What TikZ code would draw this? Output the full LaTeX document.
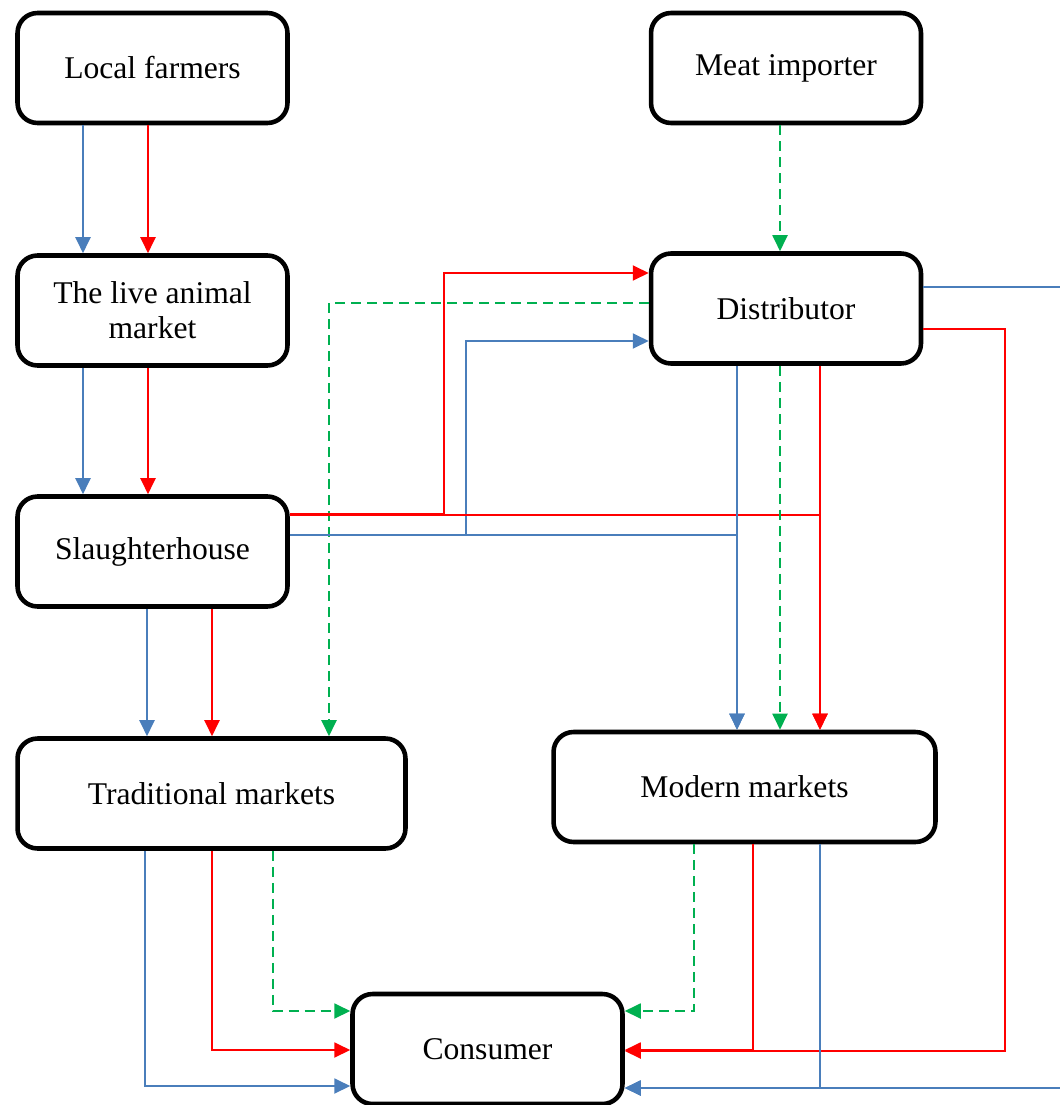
\documentclass[tikz,border=0pt]{standalone}
\usepackage{fontspec}
\setmainfont{Liberation Serif}
\usepackage{tikz}
\usetikzlibrary{positioning,arrows.meta,calc}
\definecolor{flowblue}{RGB}{74,126,187}
\definecolor{flowred}{RGB}{255,0,0}
\definecolor{flowgreen}{RGB}{0,176,80}
\begin{document}
\begin{tikzpicture}[x=0.02cm,y=-0.02cm,font=\fontsize{18pt}{20pt}\selectfont,
 box/.style={draw,rectangle,rounded corners=0.4cm,line width=2.6pt,align=center,minimum width=5.4cm,minimum height=2.2cm,inner sep=3pt},
 arr/.style={-{Triangle[length=0.32cm,width=0.3cm]},line width=1.1pt},
 bl/.style={arr,flowblue},
 rd/.style={arr,flowred},
 gr/.style={arr,flowgreen,dash pattern=on 0.2cm off 0.12cm}]
\useasboundingbox (0,0) rectangle (1060,1105);
% boxes
\node[box] (lf) at (152.5,68) {Local farmers};
\node[box] (mi) at (786,68) {Meat importer};
\node[box] (lam) at (152.5,310.5) {The live animal\\ market};
\node[box] (dist) at (786,308.5) {Distributor};
\node[box] (sh) at (152.5,551.5) {Slaughterhouse};
\node[box,minimum width=7.76cm] (tm) at (211.5,793.5) {Traditional markets};
\node[box,minimum width=7.64cm] (mm) at (744.5,787) {Modern markets};
\node[box] (cons) at (487.5,1049) {Consumer};
% left chain
\draw[bl] (lf.south -| 83,0) -- (lam.north -| 83,0);
\draw[rd] (lf.south -| 148,0) -- (lam.north -| 148,0);
\draw[bl] (lam.south -| 83,0) -- (sh.north -| 83,0);
\draw[rd] (lam.south -| 148,0) -- (sh.north -| 148,0);
\draw[bl] (sh.south -| 147,0) -- (tm.north -| 147,0);
\draw[rd] (sh.south -| 212,0) -- (tm.north -| 212,0);
% importer and distributor
\draw[gr] (mi.south -| 780,0) -- (dist.north -| 780,0);
\draw[gr] (dist.west |- 0,303) -| (tm.north -| 329,0);
\draw[rd] (sh.east |- 0,514) -| (444,273) -- (dist.west |- 0,273);
\draw[bl] (sh.east |- 0,535) -| (466,341) -- (dist.west |- 0,341);
\draw[rd] (sh.east |- 0,515) -| (mm.north -| 820,0);
\draw[bl] (sh.east |- 0,535) -| (mm.north -| 737,0);
\draw[bl] (dist.south -| 737,0) -- (mm.north -| 737,0);
\draw[gr] (dist.south -| 780,0) -- (mm.north -| 780,0);
\draw[rd] (dist.south -| 820,0) -- (mm.north -| 820,0);
\draw[bl] (dist.east |- 0,287) -- (1080,287) |- (cons.east |- 0,1088);
\draw[rd] (dist.east |- 0,329) -| (1005,1051) -- (cons.east |- 0,1051);
% to consumer
\draw[bl] (tm.south -| 145,0) |- (cons.west |- 0,1086);
\draw[rd] (tm.south -| 212,0) |- (cons.west |- 0,1050);
\draw[gr] (tm.south -| 273,0) |- (cons.west |- 0,1011);
\draw[gr] (mm.south -| 694,0) |- (cons.east |- 0,1011);
\draw[rd] (mm.south -| 753,0) |- (cons.east |- 0,1050);
\draw[bl] (mm.south -| 820,0) |- (cons.east |- 0,1088);
\end{tikzpicture}
\end{document}
